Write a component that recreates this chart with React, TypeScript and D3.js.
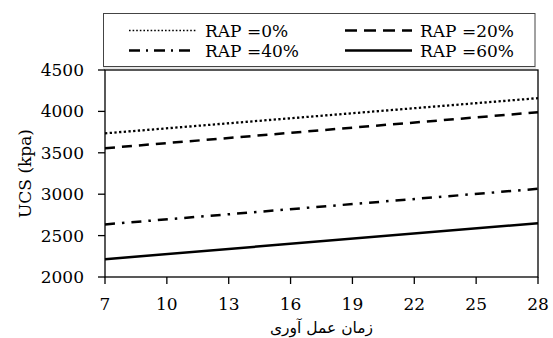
import React from "react";
import * as d3 from "d3";

// Curing time (days) at the ends of each trend line
const curingDays = [7, 28];
// UCS (kPa) per RAP content
const rap0 = [3735, 4160];
const rap20 = [3555, 3990];
const rap40 = [2635, 3065];
const rap60 = [2215, 2650];

const seriesNames = ["RAP =0%", "RAP =20%", "RAP =40%", "RAP =60%"];
const xTicks = [7, 10, 13, 16, 19, 22, 25, 28];
const yTicks = [2000, 2500, 3000, 3500, 4000, 4500];

const W = 553;
const H = 338;
const plot = { left: 105, right: 538, top: 70, bottom: 277 };

const dashes = ["2.3,2.4", "10,7", "10,7,2.5,7", ""];
const legendDashes = ["1.6,2", "12,7", "11,6,2,6", ""];

const serif = "'DejaVu Serif', 'Liberation Serif', serif";

export default function App() {
  const x = d3.scaleLinear().domain([7, 28]).range([plot.left, plot.right]);
  const y = d3.scaleLinear().domain([2000, 4500]).range([plot.bottom, plot.top]);
  const allSeries = [rap0, rap20, rap40, rap60];
  const line = d3
    .line<[number, number]>()
    .x((d) => x(d[0]))
    .y((d) => y(d[1]));

  const legendPos = [
    { lx1: 129, lx2: 196, tx: 205, ly: 30.5, ty: 36.5 },
    { lx1: 345, lx2: 412, tx: 420, ly: 30.5, ty: 36.5 },
    { lx1: 129, lx2: 196, tx: 205, ly: 50.5, ty: 57 },
    { lx1: 345, lx2: 412, tx: 420, ly: 50.5, ty: 57 },
  ];

  return (
    <svg
      width={W}
      height={H}
      style={{ position: "absolute", left: 0, top: 0, background: "#fff" }}
    >
      <rect x={0} y={0} width={W} height={H} fill="#fff" />
      {/* plot frame */}
      <rect
        x={plot.left}
        y={plot.top}
        width={plot.right - plot.left}
        height={plot.bottom - plot.top}
        fill="none"
        stroke="#000"
        strokeWidth={1.3}
      />
      {/* y ticks */}
      {yTicks.map((t) => (
        <g key={"y" + t}>
          <line x1={plot.left - 7} x2={plot.left} y1={y(t)} y2={y(t)} stroke="#000" strokeWidth={1.3} />
          <text
            x={84}
            y={y(t) + 6}
            textAnchor="end"
            fontFamily={serif}
            fontSize={17}
            fill="#000"
          >
            {t}
          </text>
        </g>
      ))}
      {/* x ticks */}
      {xTicks.map((t) => (
        <g key={"x" + t}>
          <line x1={x(t)} x2={x(t)} y1={plot.bottom} y2={plot.bottom + 7} stroke="#000" strokeWidth={1.3} />
          <text
            x={x(t)}
            y={310}
            textAnchor="middle"
            fontFamily={serif}
            fontSize={17}
            fill="#000"
          >
            {t}
          </text>
        </g>
      ))}
      {/* series */}
      {allSeries.map((vals, i) => (
        <path
          key={"s" + i}
          d={line(curingDays.map((d, j) => [d, vals[j]]))!}
          fill="none"
          stroke="#000"
          strokeWidth={i === 0 ? 2.3 : 2.5}
          strokeDasharray={dashes[i] || undefined}
        />
      ))}
      {/* axis titles */}
      <text
        transform={`translate(31,${(plot.top + plot.bottom) / 2}) rotate(-90)`}
        textAnchor="middle"
        fontFamily={serif}
        fontSize={17}
        fill="#000"
      >
        UCS (kpa)
      </text>
      <text
        x={(plot.left + plot.right) / 2}
        y={333}
        textAnchor="middle"
        fontFamily="'DejaVu Sans', 'Noto Sans', sans-serif"
        fontSize={15.5}
        fill="#000"
        direction="rtl"
      >
        زمان عمل آوری
      </text>
      {/* legend */}
      <rect x={103.5} y={13.5} width={431.5} height={53} fill="#fff" stroke="#444" strokeWidth={1} />
      <line x1={103} x2={536} y1={68} y2={68} stroke="#ccc" strokeWidth={1} />
      {seriesNames.map((name, i) => {
        const p = legendPos[i];
        return (
          <g key={"l" + i}>
            <line
              x1={p.lx1}
              x2={p.lx2}
              y1={p.ly}
              y2={p.ly}
              stroke="#000"
              strokeWidth={i === 0 ? 1.6 : 2.3}
              strokeDasharray={legendDashes[i] || undefined}
            />
            <text x={p.tx} y={p.ty} fontFamily={serif} fontSize={17} fill="#000">
              {name}
            </text>
          </g>
        );
      })}
    </svg>
  );
}
